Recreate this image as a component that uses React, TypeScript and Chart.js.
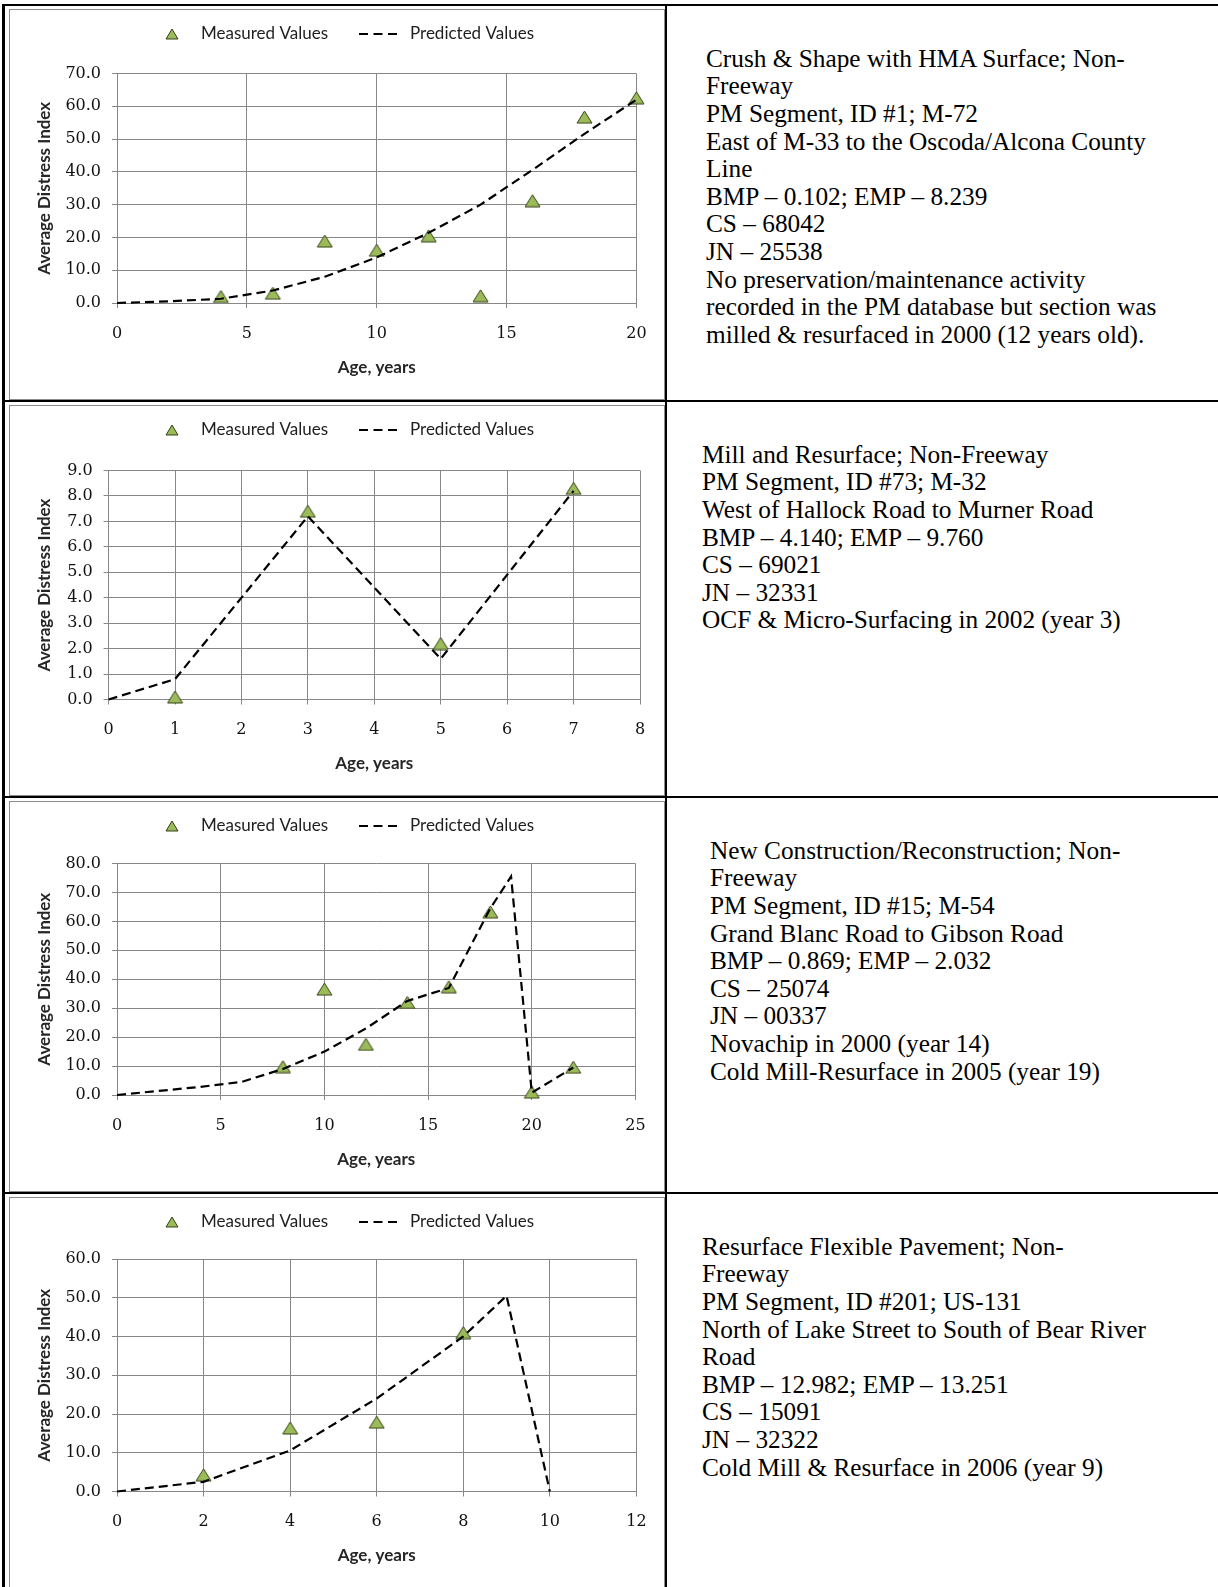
import React, { useEffect, useRef } from "react";
import { Chart, registerables } from "chart.js";

Chart.register(...registerables);

// ---------------- Data ----------------
const seriesLabels = ["Measured Values", "Predicted Values"];
const xAxisTitle = "Age, years";
const yAxisTitle = "Average Distress Index";

// Chart 1 – PM Segment ID #1
const c1MeasuredAge = [4, 6, 8, 10, 12, 14, 16, 18, 20];
const c1MeasuredValue = [2.0, 3.0, 18.9, 16.1, 20.5, 2.2, 31.2, 56.7, 62.6];
const c1PredictedAge = [0, 2, 4, 6, 8, 10, 12, 14, 16, 18, 20];
const c1PredictedValue = [0, 0.5, 1.3, 3.8, 8.0, 13.9, 21.4, 30.0, 40.6, 51.6, 62.0];

// Chart 2 – PM Segment ID #73
const c2MeasuredAge = [1, 3, 5, 7];
const c2MeasuredValue = [0.1, 7.4, 2.2, 8.3];
const c2PredictedAge = [0, 1, 3, 5, 7];
const c2PredictedValue = [0, 0.8, 7.2, 1.6, 8.2];

// Chart 3 – PM Segment ID #15
const c3MeasuredAge = [8, 10, 12, 14, 16, 18, 20, 22];
const c3MeasuredValue = [9.8, 36.6, 17.5, 32.0, 37.4, 63.3, 1.0, 9.6];
const c3PredictedAge = [0, 2, 4, 6, 8, 10, 12, 14, 16, 18, 19, 20, 22];
const c3PredictedValue = [0, 1.4, 2.8, 4.5, 9.0, 15.0, 23.0, 32.5, 37.0, 64.5, 75.5, 0.8, 9.5];

// Chart 4 – PM Segment ID #201
const c4MeasuredAge = [2, 4, 6, 8];
const c4MeasuredValue = [4.3, 16.4, 17.9, 41.0];
const c4PredictedAge = [0, 2, 4, 6, 8, 9, 10];
const c4PredictedValue = [0, 2.5, 10.6, 24.0, 40.0, 50.5, 0];

// Axis ranges [min, max, step]
const c1XRange = [0, 20, 5];
const c1YRange = [0, 70, 10];
const c2XRange = [0, 8, 1];
const c2YRange = [0, 9, 1];
const c3XRange = [0, 25, 5];
const c3YRange = [0, 80, 10];
const c4XRange = [0, 12, 2];
const c4YRange = [0, 60, 10];

// Description texts (right column)
const text1 = [
  "Crush & Shape with HMA Surface; Non-",
  "Freeway",
  "PM Segment, ID #1; M-72",
  "East of M-33 to the Oscoda/Alcona County",
  "Line",
  "BMP – 0.102; EMP – 8.239",
  "CS – 68042",
  "JN – 25538",
  "No preservation/maintenance activity",
  "recorded in the PM database but section was",
  "milled & resurfaced in 2000 (12 years old).",
];
const text2 = [
  "Mill and Resurface; Non-Freeway",
  "PM Segment, ID #73; M-32",
  "West of Hallock Road to Murner Road",
  "BMP – 4.140; EMP – 9.760",
  "CS – 69021",
  "JN – 32331",
  "OCF & Micro-Surfacing in 2002 (year 3)",
];
const text3 = [
  "New Construction/Reconstruction; Non-",
  "Freeway",
  "PM Segment, ID #15; M-54",
  "Grand Blanc Road to Gibson Road",
  "BMP – 0.869; EMP – 2.032",
  "CS – 25074",
  "JN – 00337",
  "Novachip in 2000 (year 14)",
  "Cold Mill-Resurface in 2005 (year 19)",
];
const text4 = [
  "Resurface Flexible Pavement; Non-",
  "Freeway",
  "PM Segment, ID #201; US-131",
  "North of Lake Street to South of Bear River",
  "Road",
  "BMP – 12.982; EMP – 13.251",
  "CS – 15091",
  "JN – 32322",
  "Cold Mill & Resurface in 2006 (year 9)",
];

// ---------------- Layout / style ----------------
const CANVAS_W = 654;
const CANVAS_H = 389;
const ROW_TOPS = [6, 402, 798, 1194];
const GRID = "#878787";
const TICK_FONT = { family: "'DejaVu Serif', serif", size: 16 };
const TITLE_FONT = { family: "Lato, 'Open Sans', sans-serif", size: 17, weight: "bold" as const };

type Spec = {
  mAge: number[];
  mVal: number[];
  pAge: number[];
  pVal: number[];
  xr: number[];
  yr: number[];
  plot: { left: number; right: number; top: number; bottom: number };
};

const specs: Spec[] = [
  { mAge: c1MeasuredAge, mVal: c1MeasuredValue, pAge: c1PredictedAge, pVal: c1PredictedValue, xr: c1XRange, yr: c1YRange, plot: { left: 107, right: 626.4, top: 63.5, bottom: 293 } },
  { mAge: c2MeasuredAge, mVal: c2MeasuredValue, pAge: c2PredictedAge, pVal: c2PredictedValue, xr: c2XRange, yr: c2YRange, plot: { left: 98.6, right: 630, top: 64.5, bottom: 293.5 } },
  { mAge: c3MeasuredAge, mVal: c3MeasuredValue, pAge: c3PredictedAge, pVal: c3PredictedValue, xr: c3XRange, yr: c3YRange, plot: { left: 107, right: 625.5, top: 61.5, bottom: 293 } },
  { mAge: c4MeasuredAge, mVal: c4MeasuredValue, pAge: c4PredictedAge, pVal: c4PredictedValue, xr: c4XRange, yr: c4YRange, plot: { left: 107, right: 626.4, top: 61, bottom: 293.5 } },
];

const texts = [text1, text2, text3, text4];
const textLefts = [706, 702, 710, 702];

function makeTriangle(w: number, h: number): HTMLCanvasElement {
  const c = document.createElement("canvas");
  c.width = w + 2;
  c.height = h + 2;
  const g = c.getContext("2d")!;
  g.beginPath();
  g.moveTo(1 + w / 2, 1);
  g.lineTo(1 + w, 1 + h);
  g.lineTo(1, 1 + h);
  g.closePath();
  g.fillStyle = "#9bbb59";
  g.fill();
  g.strokeStyle = "#344018";
  g.lineWidth = 1;
  g.stroke();
  return c;
}

function ChartPanel({ spec }: { spec: Spec }) {
  const ref = useRef<HTMLCanvasElement>(null);
  useEffect(() => {
    if (!ref.current) return;
    const tri = makeTriangle(15, 12);
    const legendTri = makeTriangle(12, 10);
    const legendPlugin = {
      id: "excelLegend",
      afterDraw(chart: any) {
        const ctx = chart.ctx as CanvasRenderingContext2D;
        const ds = chart.data.datasets;
        const y = 24;
        ctx.save();
        ctx.drawImage(legendTri, 162 - legendTri.width / 2, y - legendTri.height / 2);
        ctx.font = "17px Lato, 'Open Sans', sans-serif";
        ctx.fillStyle = "#1e1e1e";
        ctx.textBaseline = "middle";
        ctx.textAlign = "left";
        ctx.fillText(ds[0].label, 191, y);
        ctx.setLineDash([9, 5.5]);
        ctx.lineWidth = 2.2;
        ctx.strokeStyle = "#000";
        ctx.beginPath();
        ctx.moveTo(349, y);
        ctx.lineTo(388, y);
        ctx.stroke();
        ctx.setLineDash([]);
        ctx.fillText(ds[1].label, 400, y);
        ctx.restore();
      },
    };
    const p = spec.plot;
    const chart = new Chart(ref.current, {
      type: "scatter",
      data: {
        datasets: [
          {
            label: seriesLabels[0],
            data: spec.mAge.map((x, i) => ({ x, y: spec.mVal[i] })),
            pointStyle: tri as any,
            pointRadius: 7,
            showLine: false,
            order: 2,
            clip: false as any,
          },
          {
            label: seriesLabels[1],
            data: spec.pAge.map((x, i) => ({ x, y: spec.pVal[i] })),
            showLine: true,
            borderColor: "#000",
            borderWidth: 2.2,
            borderDash: [9, 5],
            pointRadius: 0,
            tension: 0,
            order: 1,
            clip: false as any,
          },
        ],
      },
      options: {
        animation: false,
        responsive: false,
        events: [],
        layout: { padding: { top: p.top, right: CANVAS_W - p.right, bottom: 0, left: 0 } },
        plugins: { legend: { display: false }, tooltip: { enabled: false } },
        scales: {
          x: {
            type: "linear",
            min: spec.xr[0],
            max: spec.xr[1],
            ticks: { stepSize: spec.xr[2], font: TICK_FONT, color: "#111", padding: 16, autoSkip: false, maxRotation: 0 },
            grid: { color: GRID, lineWidth: 1, tickLength: 5 },
            border: { color: GRID, width: 1 },
            title: { display: true, text: xAxisTitle, font: TITLE_FONT, color: "#262626", padding: { top: 0, bottom: 21 } },
            afterFit: (s: any) => {
              s.height = CANVAS_H - p.bottom;
            },
          },
          y: {
            type: "linear",
            min: spec.yr[0],
            max: spec.yr[1],
            ticks: {
              stepSize: spec.yr[2],
              font: TICK_FONT,
              color: "#111",
              padding: 11,
              autoSkip: false,
              callback: (v: any) => Number(v).toFixed(1),
            },
            grid: { color: GRID, lineWidth: 1, tickLength: 5 },
            border: { color: GRID, width: 1 },
            title: { display: true, text: yAxisTitle, font: TITLE_FONT, color: "#262626", padding: { top: 24, bottom: 0 } },
            afterFit: (s: any) => {
              s.width = p.left;
            },
          },
        },
      },
      plugins: [legendPlugin],
    } as any);
    return () => chart.destroy();
  }, [spec]);
  return <canvas ref={ref} width={CANVAS_W} height={CANVAS_H} style={{ display: "block", width: CANVAS_W, height: CANVAS_H }} />;
}

export default function App() {
  const black = "#000";
  return (
    <div style={{ position: "absolute", left: 0, top: 0, width: 1218, height: 1587, overflow: "hidden", background: "#fff" }}>
      {/* table borders */}
      <div style={{ position: "absolute", left: 2, top: 4, width: 1216, height: 2, background: black }} />
      <div style={{ position: "absolute", left: 2, top: 4, width: 3, height: 1583, background: black }} />
      <div style={{ position: "absolute", left: 665, top: 4, width: 2, height: 1583, background: black }} />
      {ROW_TOPS.slice(1).map((t) => (
        <div key={t} style={{ position: "absolute", left: 2, top: t - 2, width: 1216, height: 2, background: black }} />
      ))}
      {specs.map((s, i) => (
        <div
          key={"c" + i}
          style={{
            position: "absolute",
            left: 9,
            top: ROW_TOPS[i] + 3,
            width: 656,
            height: 391,
            boxSizing: "border-box",
            border: "1px solid #8c8c8c",
            background: "#fff",
          }}
        >
          <ChartPanel spec={s} />
        </div>
      ))}
      {texts.map((lines, i) => (
        <div
          key={"t" + i}
          style={{
            position: "absolute",
            left: textLefts[i],
            top: ROW_TOPS[i] + 38.8,
            fontFamily: "'Liberation Serif', 'Times New Roman', serif",
            fontSize: 25.3,
            lineHeight: "27.6px",
            color: "#000",
            whiteSpace: "nowrap",
          }}
        >
          {lines.map((l, j) => (
            <div key={j}>{l}</div>
          ))}
        </div>
      ))}
    </div>
  );
}
